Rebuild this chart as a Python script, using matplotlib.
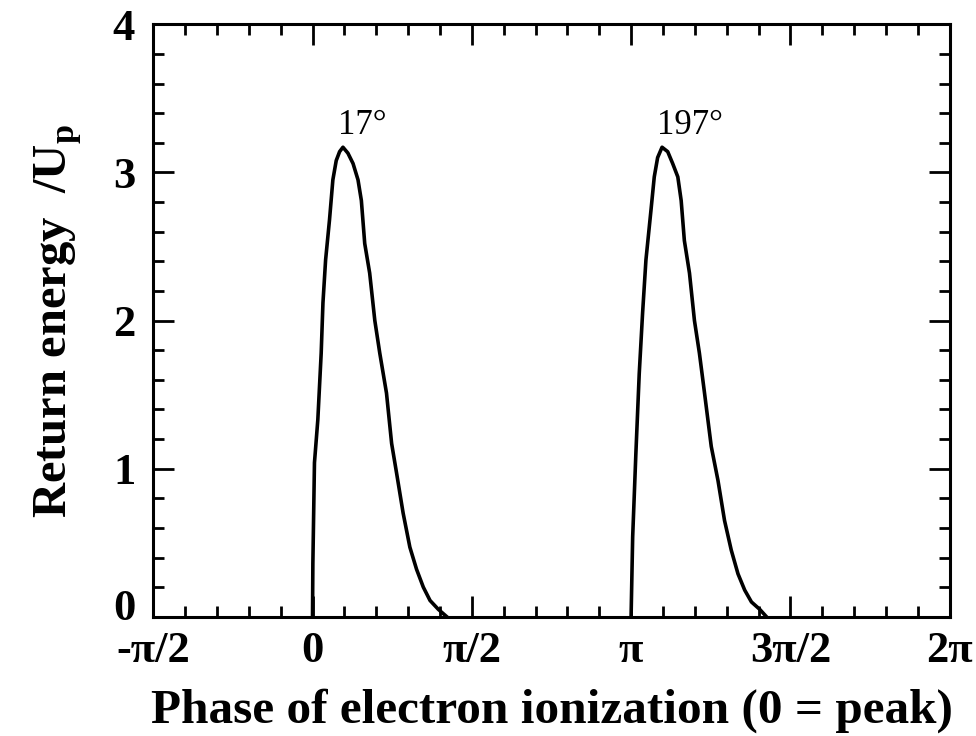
import numpy as np
import matplotlib
matplotlib.use('Agg')
import matplotlib.pyplot as plt
from matplotlib.ticker import MultipleLocator
from matplotlib.transforms import ScaledTranslation

plt.rcParams['font.family'] = ['Liberation Serif', 'DejaVu Serif']
plt.rcParams['mathtext.fontset'] = 'custom'
plt.rcParams['mathtext.rm'] = 'Liberation Serif:bold'
plt.rcParams['mathtext.bf'] = 'Liberation Serif:bold'

# ionization phase (degrees) and return energy (Up)
phase1_deg = [0.0, 0.2, 1.1, 3.0, 4.9, 5.9, 7.4, 9.6, 11.5, 13.4, 15.3, 17.2,
              20.0, 22.9, 25.7, 27.6, 29.5, 32.3, 35.2, 38.0, 41.8, 44.7, 47.5,
              51.2, 55.0, 58.8, 62.6, 66.4, 71.1, 75.9]
energy1 = [0.0, 0.36, 1.04, 1.33, 1.78, 2.12, 2.41, 2.68, 2.95, 3.08, 3.14, 3.17,
           3.13, 3.06, 2.95, 2.81, 2.52, 2.32, 2.00, 1.78, 1.51, 1.17, 0.97,
           0.70, 0.47, 0.32, 0.20, 0.11, 0.05, 0.0]

phase2_deg = [180.0, 180.9, 182.7, 184.6, 186.5, 188.4, 191.2, 193.1, 195.0, 197.5,
              200.7, 203.5, 206.4, 208.3, 210.1, 213.0, 215.8, 218.6, 221.5, 225.3,
              229.1, 232.8, 236.6, 240.4, 244.2, 248.0, 252.7, 256.5]
energy2 = [0.0, 0.54, 1.10, 1.64, 2.05, 2.41, 2.74, 2.97, 3.10, 3.17,
           3.14, 3.06, 2.97, 2.81, 2.54, 2.32, 2.00, 1.78, 1.51, 1.15,
           0.92, 0.65, 0.45, 0.29, 0.18, 0.10, 0.05, 0.0]

peak_labels = ['17°', '197°']
peak_deg = [17, 197]
peak_energy = [3.17, 3.17]

xtick_labels = ['-π/2', '0', 'π/2', 'π', '3π/2', '2π']

fig = plt.figure(figsize=(9.76, 7.36), dpi=100)
ax = fig.add_axes([0.157, 0.162, 0.816, 0.805])

ax.plot(np.radians(phase1_deg), energy1, color='black', lw=2.6)
ax.plot(np.radians(phase2_deg), energy2, color='black', lw=2.6)

# degree labels sit just above each peak, starting a little left of it
for lab, d, e in zip(peak_labels, peak_deg, peak_energy):
    ax.text(np.radians(d - 2.5), e + 0.09, lab, fontsize=25,
            ha='left', va='baseline')

ax.set_xlim(-np.pi / 2, 2 * np.pi)
ax.set_ylim(0, 4)
ax.set_xticks(np.arange(-0.5, 2.01, 0.5) * np.pi)
ax.set_xticklabels(xtick_labels)
ax.xaxis.set_minor_locator(MultipleLocator(np.pi / 10))
ax.set_yticks([0, 1, 2, 3, 4])
ax.yaxis.set_minor_locator(MultipleLocator(0.2))

ax.tick_params(which='both', direction='in', top=True, right=True, width=2)
ax.tick_params(which='major', length=15, labelsize=32)
ax.tick_params(which='minor', length=8)
ax.tick_params(axis='x', which='major', pad=10)
ax.tick_params(axis='y', which='major', pad=13)
for lab in ax.get_xticklabels() + ax.get_yticklabels():
    lab.set_fontweight('bold')
for sp in ax.spines.values():
    sp.set_linewidth(2.2)

# the "0" on the y axis is lifted a bit so it clears "-π/2"
ylab0 = ax.get_yticklabels()[0]
ylab0.set_transform(ylab0.get_transform() + ScaledTranslation(0, 0.12, fig.dpi_scale_trans))

ax.set_xlabel('Phase of electron ionization (0 = peak)', fontsize=35.5,
              fontweight='bold', labelpad=13)
ax.set_ylabel(r'Return energy  /U$_\mathbf{p}$', fontsize=35,
              fontweight='bold', labelpad=21)

fig.savefig('out.png', dpi=100)
